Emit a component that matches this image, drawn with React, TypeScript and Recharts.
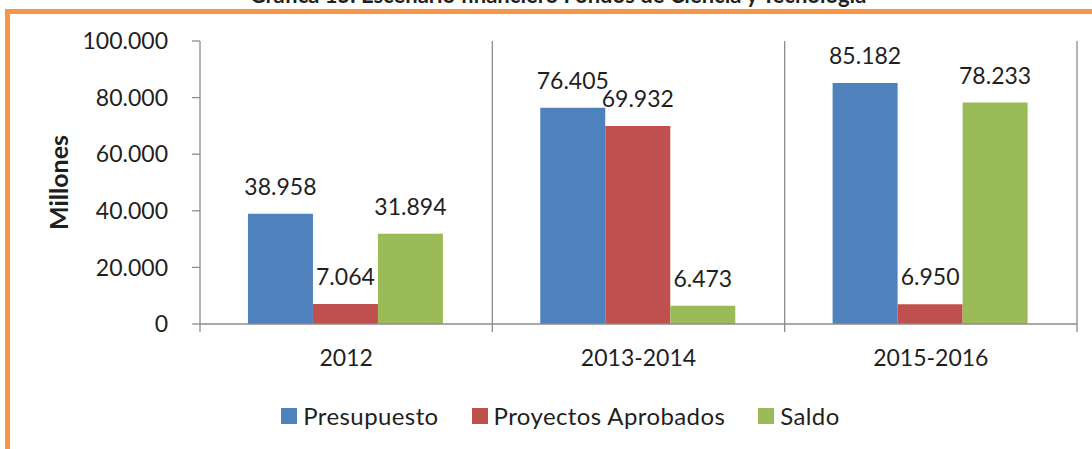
import React from "react";
import { BarChart, Bar, XAxis, YAxis, CartesianGrid, LabelList, Legend } from "recharts";

const categories = ["2012", "2013-2014", "2015-2016"];
const presupuesto = [38958, 76405, 85182];
const proyectosAprobados = [7064, 69932, 6950];
const saldo = [31894, 6473, 78233];
const yTicks = [0, 20000, 40000, 60000, 80000, 100000];

const seriesDefs = [
  { key: "presupuesto", name: "Presupuesto", color: "#4F81BD" },
  { key: "proyectos", name: "Proyectos Aprobados", color: "#C0504D" },
  { key: "saldo", name: "Saldo", color: "#9BBB59" },
];

const data = categories.map((c, i) => ({
  category: c,
  presupuesto: presupuesto[i],
  proyectos: proyectosAprobados[i],
  saldo: saldo[i],
}));

const FONT = "Lato, 'Open Sans', sans-serif";
const TEXT = "#1f1f1f";
const AXIS = "#8c8c8c";

const fmt = (v: number) =>
  String(Math.round(v)).replace(/\B(?=(\d{3})+(?!\d))/g, ".");

const XTick = (props: any) => {
  const { x, y, payload, index, visibleTicksCount } = props;
  const half = payload.offset || 0;
  const axisY = y - 26;
  const left = x - half;
  const right = x + half;
  return (
    <g>
      <line x1={left} x2={left} y1={axisY} y2={axisY + 8} stroke={AXIS} strokeWidth={1.3} />
      {index === visibleTicksCount - 1 && (
        <line x1={right} x2={right} y1={axisY} y2={axisY + 8} stroke={AXIS} strokeWidth={1.3} />
      )}
      <text x={x} y={y} dy="0.71em" textAnchor="middle" fontFamily={FONT} fontSize={23} fill={TEXT}>
        {payload.value}
      </text>
    </g>
  );
};

const renderLegend = () => (
  <div
    style={{
      display: "flex",
      justifyContent: "center",
      alignItems: "center",
      fontFamily: FONT,
      fontSize: 24,
      letterSpacing: 0.4,
      color: TEXT,
      gap: 33,
    }}
  >
    {seriesDefs.map((s) => (
      <div key={s.key} style={{ display: "flex", alignItems: "center" }}>
        <span style={{ display: "inline-block", width: 16, height: 16, background: s.color, marginRight: 6 }} />
        <span>{s.name}</span>
      </div>
    ))}
  </div>
);

const YLabel = (props: any) => {
  const { viewBox } = props;
  const cx = viewBox.x + 58;
  const cy = viewBox.y + viewBox.height / 2;
  return (
    <text
      x={cx}
      y={cy}
      transform={`rotate(-90 ${cx} ${cy})`}
      textAnchor="middle"
      dominantBaseline="central"
      fontFamily={FONT}
      fontWeight={700}
      fontSize={25}
      fill={TEXT}
    >
      Millones
    </text>
  );
};

export default function App() {
  return (
    <div style={{ position: "absolute", left: 0, top: 0, width: 1092, height: 449, overflow: "hidden", background: "#fff" }}>
      <svg width={1092} height={20} style={{ position: "absolute", left: 0, top: 0 }}>
        <text x={558} y={3} textAnchor="middle" fontFamily={FONT} fontWeight={700} fontSize={22} fill={TEXT}>
          Gráfica 15. Escenario financiero Fondos de Ciencia y Tecnología
        </text>
      </svg>
      <div
        style={{
          position: "absolute",
          left: 5,
          top: 9,
          width: 1200,
          height: 600,
          borderTop: "5px solid #F79646",
          borderLeft: "5px solid #F79646",
          boxSizing: "border-box",
        }}
      />
      <div style={{ position: "absolute", left: 0, top: 0 }}>
        <BarChart
          width={1092}
          height={449}
          data={data}
          margin={{ top: 41, right: 15, left: 0, bottom: 0 }}
          barCategoryGap="16.4%"
          barGap={0}
        >
          <CartesianGrid
            horizontal={false}
            vertical
            stroke={AXIS}
            strokeWidth={1.3}
            verticalCoordinatesGenerator={({ offset }: any) =>
              categories.map((_, i) => offset.left + ((i + 1) * offset.width) / categories.length)
            }
          />
          <XAxis
            dataKey="category"
            height={125}
            tickSize={8}
            tickMargin={18}
            tickLine={false}
            axisLine={{ stroke: AXIS, strokeWidth: 1.3 }}
            tick={<XTick />}
            interval={0}
          />
          <YAxis
            width={200}
            domain={[0, 100000]}
            ticks={yTicks}
            tickFormatter={fmt}
            tickSize={8}
            tickMargin={24}
            tickLine={{ stroke: AXIS, strokeWidth: 1.3 }}
            axisLine={{ stroke: AXIS, strokeWidth: 1.3 }}
            tick={{ fontFamily: FONT, fontSize: 23, fill: TEXT }}
            label={<YLabel />}
          />
          <Legend
            verticalAlign="middle"
            align="center"
            content={renderLegend}
            wrapperStyle={{ position: "absolute", left: 0, top: 401, width: 1121, height: 28 }}
          />
          {seriesDefs.map((s) => (
            <Bar key={s.key} dataKey={s.key} name={s.name} fill={s.color} isAnimationActive={false}>
              <LabelList
                dataKey={s.key}
                position="top"
                offset={19}
                formatter={(v: any) => fmt(Number(v))}
                style={{ fontFamily: FONT, fontSize: 23, fill: TEXT }}
              />
            </Bar>
          ))}
        </BarChart>
      </div>
    </div>
  );
}
